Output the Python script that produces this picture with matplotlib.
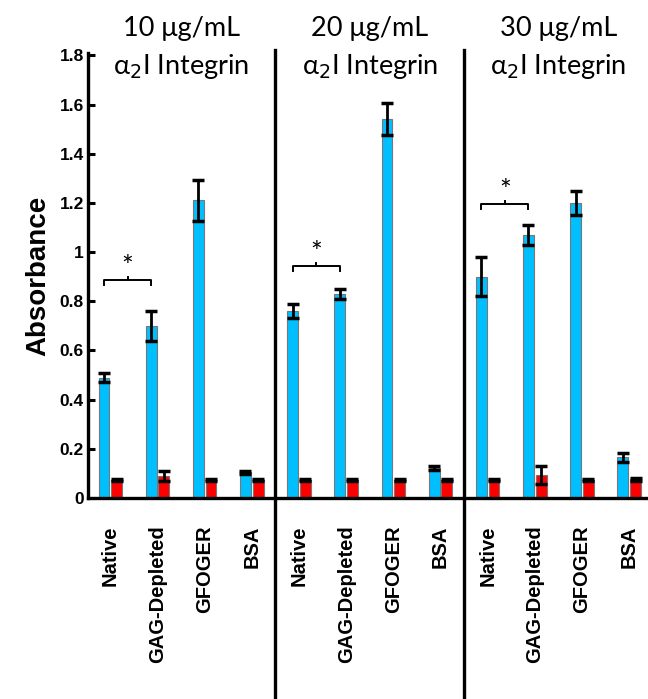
import numpy as np
import matplotlib.pyplot as plt

# data
groups = ["Native", "GAG-Depleted", "GFOGER", "BSA"]
conc = ["10 μg/mL", "20 μg/mL", "30 μg/mL"]
protein = "α$_2$I Integrin"

blue_vals = [0.49, 0.70, 1.21, 0.105,
             0.76, 0.83, 1.54, 0.12,
             0.90, 1.07, 1.20, 0.165]
blue_err = [0.02, 0.06, 0.085, 0.006,
            0.03, 0.02, 0.065, 0.008,
            0.08, 0.04, 0.05, 0.017]
red_vals = [0.073, 0.09, 0.073, 0.073,
            0.073, 0.075, 0.073, 0.073,
            0.073, 0.095, 0.073, 0.076]
red_err = [0.004, 0.02, 0.004, 0.004,
           0.004, 0.004, 0.004, 0.004,
           0.004, 0.037, 0.004, 0.005]

# bracket heights for Native vs GAG-Depleted
sig_heights = [0.886, 0.943, 1.195]

plt.rcParams['font.family'] = ['Lato', 'DejaVu Sans']
bold_font = ['Liberation Sans', 'DejaVu Sans']

fig = plt.figure(figsize=(6.48, 6.99), dpi=100)
ax = fig.add_axes([0.136, 0.2876, 0.864, 0.6366])

x = np.arange(12)
w = 0.23
off = 0.135
ekw = dict(ecolor='black', elinewidth=2, capsize=4, capthick=2.5)
ax.bar(x - off, blue_vals, w, color='#00BFFF', edgecolor='#777777', linewidth=0.8,
       yerr=blue_err, error_kw=ekw, zorder=2)
ax.bar(x + off, red_vals, w, color='#FF0000', edgecolor='#777777', linewidth=0.8,
       yerr=red_err, error_kw=ekw, zorder=2)

ax.set_xlim(-0.47, 11.4)
ax.set_ylim(0, 1.81)
ax.set_yticks(np.arange(0, 1.81, 0.2))
ax.set_yticklabels(["0", "0.2", "0.4", "0.6", "0.8", "1", "1.2", "1.4", "1.6", "1.8"])
ax.set_xticks(x)
ax.set_xticklabels(groups * 3, rotation=90)
for lab in ax.get_yticklabels():
    lab.set_fontfamily(bold_font)
    lab.set_fontweight('bold')
    lab.set_fontsize(12.5)
for lab in ax.get_xticklabels():
    lab.set_fontfamily(bold_font)
    lab.set_fontweight('bold')
    lab.set_fontsize(14.5)
ax.tick_params(axis='x', length=0, pad=20)
ax.tick_params(axis='y', direction='in', length=5, width=2.2, pad=3)

for s in ['top', 'right']:
    ax.spines[s].set_visible(False)
for s in ['left', 'bottom']:
    ax.spines[s].set_linewidth(2.4)

ax.set_ylabel("Absorbance", fontweight='bold', fontsize=20, fontfamily=bold_font, labelpad=6)

# panel dividers
for d in [3.5, 7.5]:
    ax.axvline(d, ymin=-0.5, ymax=1.007, color='black', linewidth=2.4, clip_on=False)

# panel titles
for i, c in enumerate(conc):
    ax.text(4 * i + 1.5, 1.911, c, ha='center', va='center', fontsize=19.5, clip_on=False)
    ax.text(4 * i + 1.5, 1.757, protein, ha='center', va='center', fontsize=19.5, clip_on=False)

# significance brackets
for i, h in enumerate(sig_heights):
    x0 = 4 * i - off
    x1 = 4 * i + 1 - off
    xm = (x0 + x1) / 2
    ax.plot([x0, x0, x1, x1], [h - 0.02, h, h, h - 0.02], color='black', linewidth=1.4)
    ax.plot([xm, xm], [h, h + 0.012], color='black', linewidth=1.4)
    ax.text(xm, h + 0.05, "*", ha='center', va='center', fontsize=20)

fig.savefig("out.png", dpi=100)
